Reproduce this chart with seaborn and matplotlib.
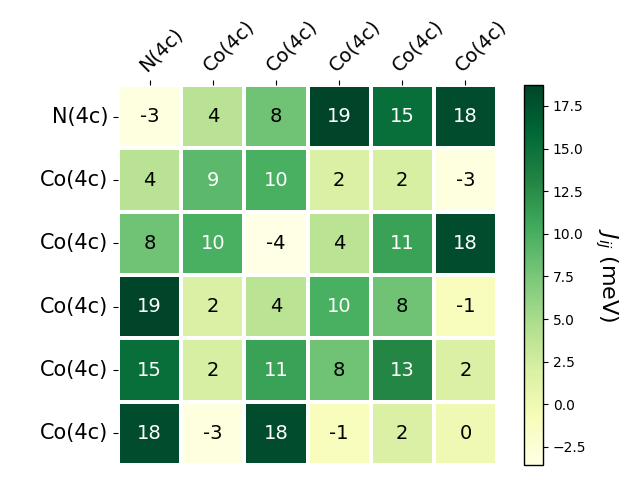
import numpy as np
import pandas as pd
import matplotlib
matplotlib.use("Agg")
import matplotlib.pyplot as plt
import seaborn as sns

labels = ["N(4c)", "Co(4c)", "Co(4c)", "Co(4c)", "Co(4c)", "Co(4c)"]
row0 = [-3.2, 4.1, 8.0, 18.73, 15.2, 18.2]
row1 = [4.1, 9.0, 10.0, 2.0, 2.1, -3.2]
row2 = [8.0, 10.0, -3.56, 4.0, 11.0, 18.2]
row3 = [18.73, 2.0, 4.0, 10.0, 8.0, -1.0]
row4 = [15.2, 2.1, 11.0, 8.0, 13.0, 2.0]
row5 = [18.2, -3.2, 18.2, -1.0, 2.0, 0.0]

data = np.array([row0, row1, row2, row3, row4, row5])

fig = plt.figure(figsize=(6.4, 4.8), dpi=100)
ax = fig.add_axes([118 / 640, 15 / 480, 379 / 640, 380 / 480])
cax = fig.add_axes([524 / 640, 15 / 480, 19 / 640, 380 / 480])

sns.heatmap(data, ax=ax, cbar_ax=cax, cmap="YlGn", annot=True, fmt=".0f",
            annot_kws={"fontsize": 14}, linewidths=2.8, linecolor="white",
            xticklabels=labels, yticklabels=labels, square=False)

for t in ax.texts:
    if t.get_color() != "w":
        t.set_color("black")

ax.xaxis.tick_top()
ax.set_xticklabels(labels, rotation=45, ha="left", rotation_mode="anchor", fontsize=14)
ax.set_yticklabels(labels, rotation=0, fontsize=15)
ax.tick_params(axis="x", which="both", top=True, bottom=False)

cbar = ax.collections[0].colorbar
cbar.outline.set_visible(True)
cbar.outline.set_edgecolor("black")
cbar.outline.set_linewidth(1)
cbar.set_label("$J_{ij}$ (meV)", rotation=270, labelpad=24, fontsize=16)
cbar.ax.tick_params(labelsize=10)

fig.savefig("out.png", dpi=100)
